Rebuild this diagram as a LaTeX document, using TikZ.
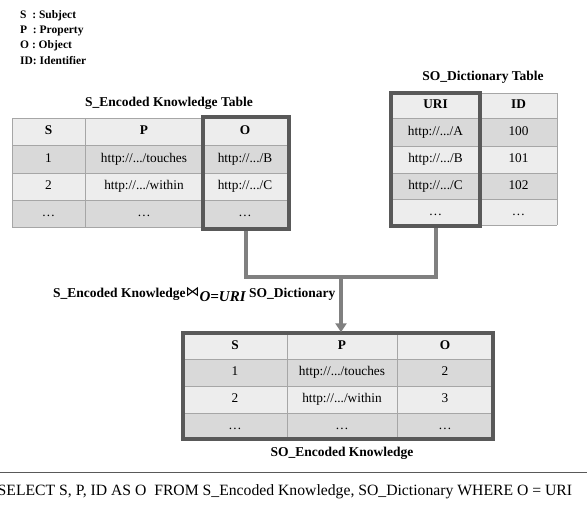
\documentclass[tikz,border=0pt]{standalone}
\usepackage{fontspec}
\setmainfont{Liberation Serif}
\newfontfamily\symbolfont{DejaVu Sans}
\usetikzlibrary{arrows.meta}
\definecolor{celllight}{HTML}{EDEDED}
\definecolor{celldark}{HTML}{D9D9D9}
\definecolor{gridgray}{HTML}{A6A6A6}
\definecolor{boxgray}{HTML}{595959}
\definecolor{conngray}{HTML}{808080}
\tikzset{
  cell/.style={font=\fontsize{13.3}{15}\selectfont, inner sep=0pt, text height=9pt, text depth=3pt},
  headcell/.style={font=\bfseries\fontsize{13.3}{15}\selectfont, inner sep=0pt, text height=9pt, text depth=3pt},
  tabtitle/.style={font=\bfseries\fontsize{13.5}{15}\selectfont, inner sep=0pt},
  legend/.style={font=\bfseries\fontsize{11.5}{15}\selectfont, inner sep=0pt, anchor=west},
  gridline/.style={draw=gridgray, line width=1pt},
  hlbox/.style={draw=boxgray, line width=3.5pt, inner sep=0pt},
  conn/.style={draw=conngray, line width=4pt},
}
\begin{document}
\begin{tikzpicture}[x=1pt,y=-1pt]
\useasboundingbox (0,0) rectangle (587,507);

% legend
\node[legend] (lgS) at (20,16) {S\ \ : Subject};
\node[legend] (lgP) at (20,31) {P\ \ : Property};
\node[legend] (lgO) at (20,46) {O : Object};
\node[legend] (lgI) at (20,61) {ID: Identifier};

% ---------- S_Encoded Knowledge table ----------
\node[tabtitle] (stitle) at (169,103) {S\_Encoded Knowledge Table};
\fill[celllight] (12,118) rectangle (287,145);
\fill[celldark]  (12,145) rectangle (287,173);
\fill[celllight] (12,173) rectangle (287,200);
\fill[celldark]  (12,200) rectangle (287,227);
\foreach \yy in {118,145,173,200,227} \draw[gridline] (12,\yy) -- (287,\yy);
\foreach \xx in {12,85,203,287} \draw[gridline] (\xx,118) -- (\xx,227);
\node[headcell] (s00) at (48.5,131.5) {S};
\node[headcell] (s01) at (144,131.5) {P};
\node[headcell] (s02) at (245,131.5) {O};
\node[cell] (s10) at (48.5,159) {1};
\node[cell] (s11) at (144,159) {http://.../touches};
\node[cell] (s12) at (245,159) {http://.../B};
\node[cell] (s20) at (48.5,186.5) {2};
\node[cell] (s21) at (144,186.5) {http://.../within};
\node[cell] (s22) at (245,186.5) {http://.../C};
\node[cell] (s30) at (48.5,213.5) {…};
\node[cell] (s31) at (144,213.5) {…};
\node[cell] (s32) at (245,213.5) {…};
\node[hlbox, minimum width=86, minimum height=112] (ocol) at (246,173) {};

% ---------- SO_Dictionary table ----------
\node[tabtitle] (dtitle) at (483,77) {SO\_Dictionary Table};
\fill[celllight] (391,93) rectangle (557,118);
\fill[celldark]  (391,118) rectangle (557,146);
\fill[celllight] (391,146) rectangle (557,173);
\fill[celldark]  (391,173) rectangle (557,199);
\fill[celllight] (391,199) rectangle (557,225);
\foreach \yy in {93,118,146,173,199,225} \draw[gridline] (391,\yy) -- (557,\yy);
\foreach \xx in {391,480,557} \draw[gridline] (\xx,93) -- (\xx,225);
\node[headcell] (d00) at (435.5,105.5) {URI};
\node[headcell] (d01) at (518.5,105.5) {ID};
\node[cell] (d10) at (435.5,132) {http://.../A};
\node[cell] (d11) at (518.5,132) {100};
\node[cell] (d20) at (435.5,159.5) {http://.../B};
\node[cell] (d21) at (518.5,159.5) {101};
\node[cell] (d30) at (435.5,186) {http://.../C};
\node[cell] (d31) at (518.5,186) {102};
\node[cell] (d40) at (435.5,212) {…};
\node[cell] (d41) at (518.5,212) {…};
\node[hlbox, minimum width=89, minimum height=133] (ucol) at (435.5,159.5) {};

% ---------- join connector ----------
\coordinate (joinpt) at (341,277);
\draw[conn] (ocol.south) |- (joinpt) -| (ucol.south);
\node[font=\bfseries\fontsize{13.5}{15}\selectfont, inner sep=0pt, anchor=west] (joinlbl) at (53,294)
  {S\_Encoded Knowledge\raisebox{1pt}{{\symbolfont\mdseries\fontsize{14}{16}\selectfont ⋈}}\raisebox{-4pt}{\itshape\fontsize{15}{17}\selectfont O=URI} SO\_Dictionary};

% ---------- SO_Encoded Knowledge table ----------
\fill[celllight] (183,333) rectangle (493,359);
\fill[celldark]  (183,359) rectangle (493,386);
\fill[celllight] (183,386) rectangle (493,413);
\fill[celldark]  (183,413) rectangle (493,439);
\foreach \yy in {359,386,413} \draw[gridline] (183,\yy) -- (493,\yy);
\foreach \xx in {287,397} \draw[gridline] (\xx,333) -- (\xx,439);
\node[headcell] (r00) at (235,346) {S};
\node[headcell] (r01) at (342,346) {P};
\node[headcell] (r02) at (445,346) {O};
\node[cell] (r10) at (235,372.5) {1};
\node[cell] (r11) at (342,372.5) {http://.../touches};
\node[cell] (r12) at (445,372.5) {2};
\node[cell] (r20) at (235,399.5) {2};
\node[cell] (r21) at (342,399.5) {http://.../within};
\node[cell] (r22) at (445,399.5) {3};
\node[cell] (r30) at (235,426) {…};
\node[cell] (r31) at (342,426) {…};
\node[cell] (r32) at (445,426) {…};
\node[hlbox, minimum width=310, minimum height=106] (res) at (338,386) {};
\node[tabtitle] (rtitle) at (342,453) {SO\_Encoded Knowledge};

\draw[conn, -{Triangle[length=9pt,width=11pt]}, shorten >=-1pt] (joinpt) -- (joinpt |- res.north);

% ---------- SQL statement ----------
\draw[draw=boxgray, line width=1pt] (0,472) -- (587,472);
\node[font=\fontsize{15.7}{18}\selectfont, inner sep=0pt, anchor=west] (sql) at (-2.5,492)
  {SELECT S, P, ID AS O\ \ FROM S\_Encoded Knowledge, SO\_Dictionary WHERE O = URI};
\end{tikzpicture}
\end{document}
